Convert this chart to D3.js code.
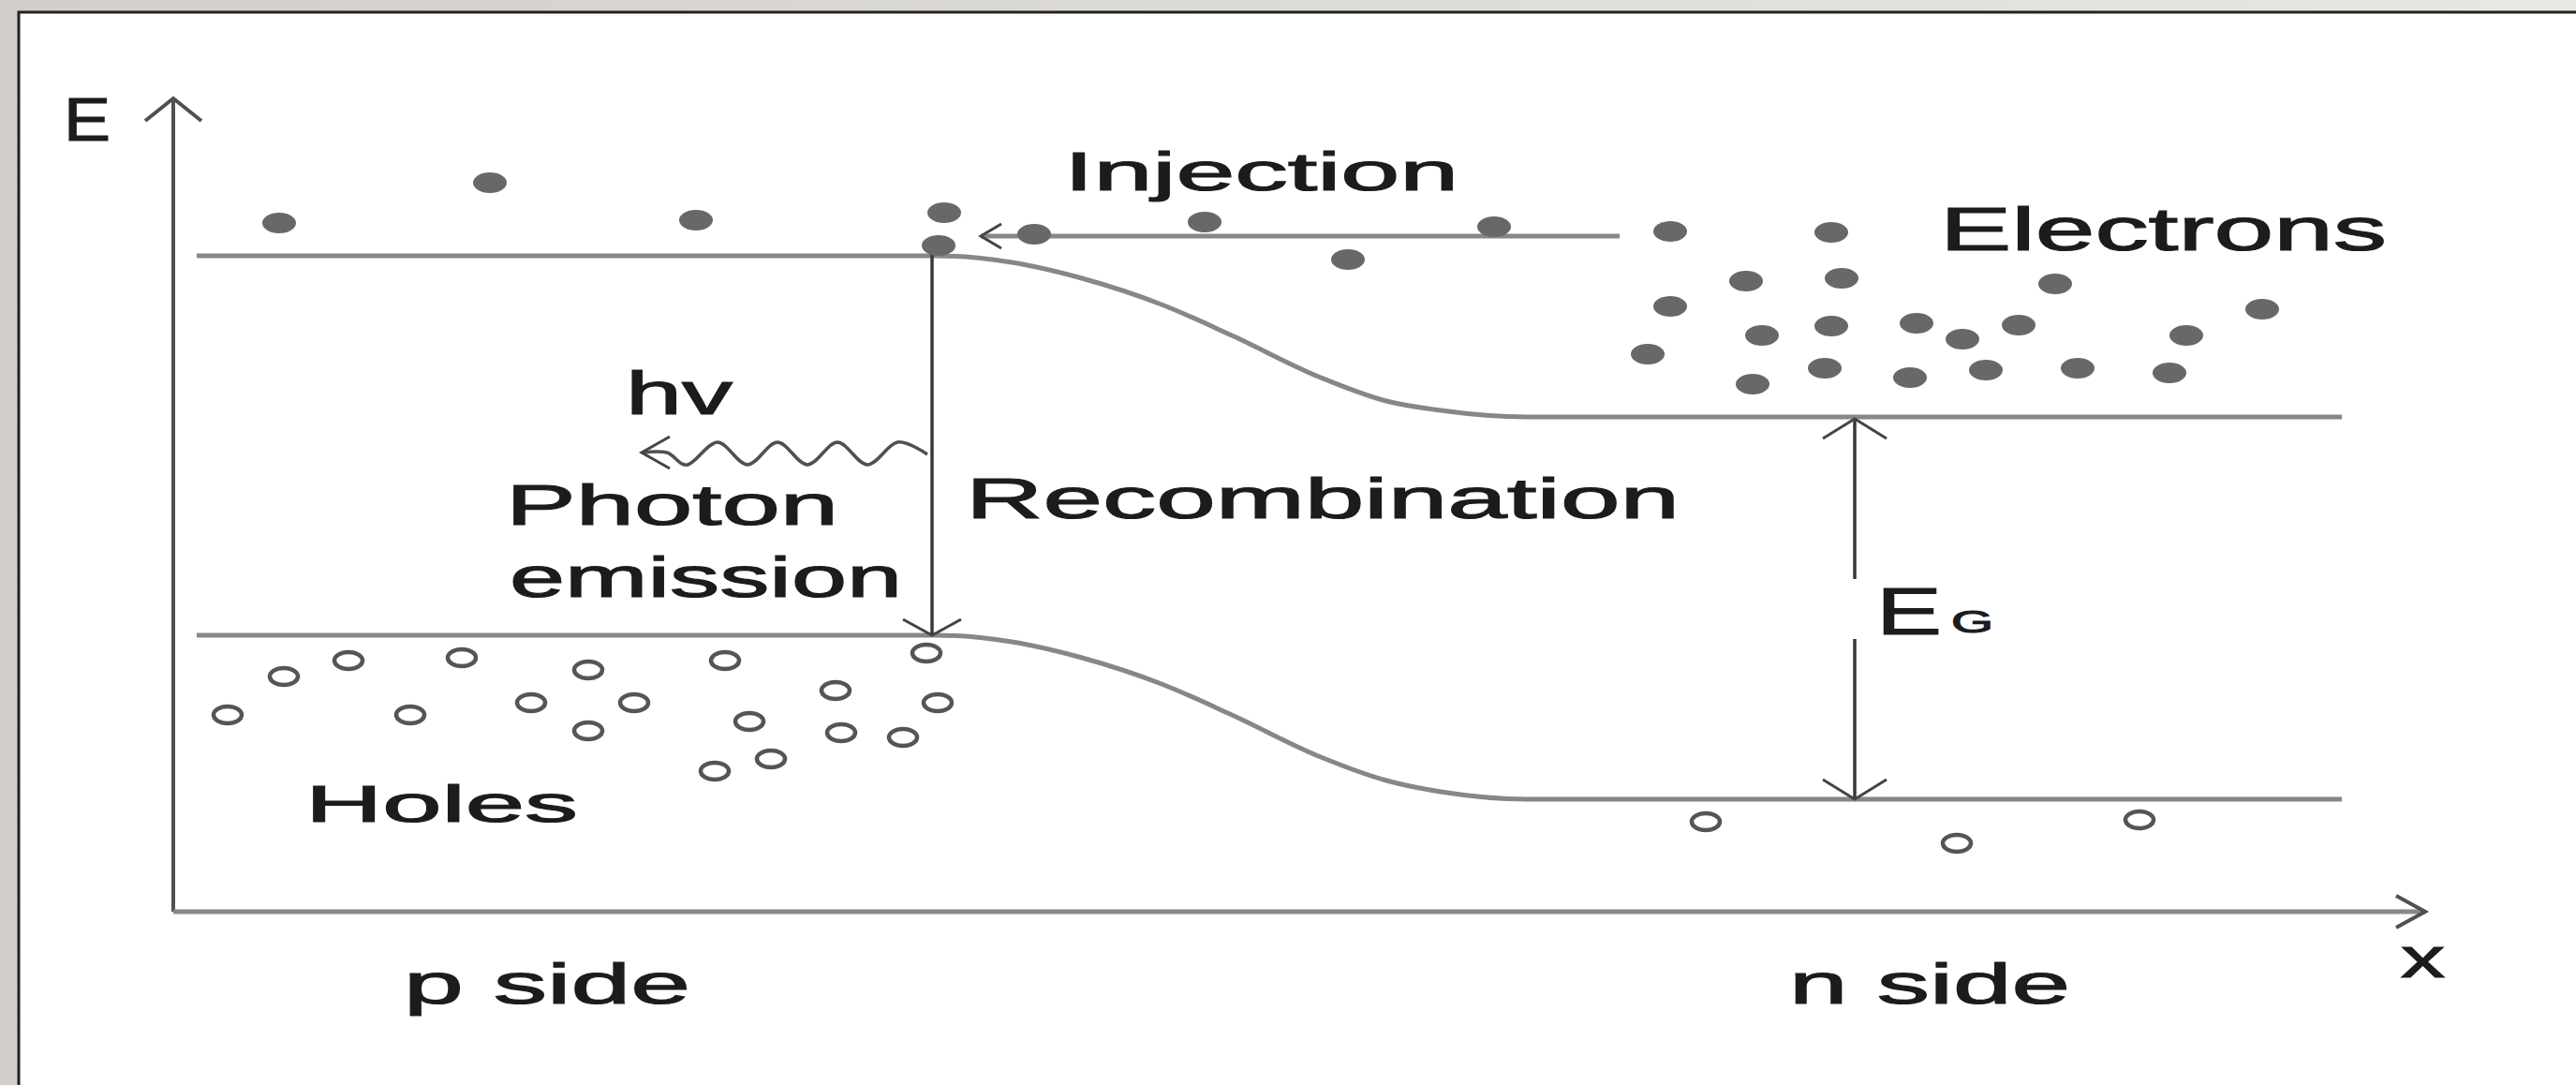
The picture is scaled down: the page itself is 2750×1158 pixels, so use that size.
<!DOCTYPE html>
<html>
<head>
<meta charset="utf-8">
<title>LED energy band diagram</title>
<script src="https://cdn.jsdelivr.net/npm/d3@7"></script>
<style>
  body { margin: 0; background: #d6d3ce; }
  text { font-family: 'Liberation Sans', Arial, sans-serif; fill: #1c1c1c; stroke: #1c1c1c; stroke-width: 1.2px; }
  .band { fill: none; stroke: #878787; stroke-width: 5px; }
  .axis { fill: none; stroke: #505050; stroke-width: 4px; }
  .xaxis { fill: none; stroke: #878787; stroke-width: 5px; }
  .dark { fill: none; stroke: #383838; stroke-width: 3.5px; }
  .grey { fill: none; stroke: #878787; stroke-width: 5px; }
  .head { fill: none; stroke: #444; stroke-width: 3px; }
  .electron { fill: #686868; }
  .hole { fill: #fff; stroke: #555; stroke-width: 4.5px; }
</style>
</head>
<body>
<svg id="chart"></svg>
<script>
    // diagram units: position along the x axis, energy along the E axis (origin = axes corner)
    var conductionBand = [[25, 700], [815, 700], [895, 693], [970, 676], [1055, 648], [1130, 615],
        [1225, 570], [1295, 545], [1353, 535], [1445, 528], [2315, 528]];
    var valenceBand = [[25, 295], [815, 295], [895, 288], [970, 271], [1055, 243], [1130, 210],
        [1225, 165], [1295, 140], [1353, 128], [1445, 120], [2315, 120]];

    var electrons = [
        [113, 735], [338, 778], [558, 738], [823, 746], [817, 711],
        [919, 723], [1101, 736], [1254, 696], [1410, 731],
        [1598, 726], [1770, 725], [1679, 673], [1781, 676], [2009, 670],
        [1598, 646], [1696, 615], [1770, 625], [1861, 628], [1910, 611], [1970, 626],
        [2149, 615], [2230, 643], [1574, 595], [1686, 563], [1763, 580], [1854, 570],
        [1935, 578], [2033, 580], [2131, 575]];
    var holes = [
        [58, 210], [118, 251], [187, 268], [253, 210], [308, 271], [382, 223],
        [443, 258], [492, 223], [443, 193], [589, 268], [615, 203], [707, 236],
        [804, 276], [816, 223], [713, 191], [779, 186], [638, 163], [578, 150],
        [1636, 96], [1904, 73], [2099, 98]];

    var injection = [[1544, 721], [862, 721]];
    var recombination = [[810, 711], [810, 295]];
    var photonWave = [[805, 488], [773, 501], [741, 477], [709, 501], [677, 477], [645, 501],
        [613, 477], [581, 501], [549, 477], [527, 490], [500, 490]];
    var gapArrowX = 1795;
    var gapArrowE = [526, 355, 291, 120];   // top, label gap start, label gap end, bottom

    var xAxisEnd = 2404;
    var eAxisEnd = 868;

    var labels = ['E', 'Injection', 'Electrons', 'hv', 'Photon', 'emission',
        'Recombination', 'Holes', 'p side', 'n side', 'x'];

    // page layout
    var vWidth = 2750, vHeight = 1158;
    var svg = d3.select('#chart').attr('width', vWidth).attr('height', vHeight);

    var defs = svg.append('defs');
    var grad = defs.append('linearGradient').attr('id', 'frame');
    grad.append('stop').attr('offset', '0%').attr('stop-color', '#d2cfca');
    grad.append('stop').attr('offset', '100%').attr('stop-color', '#e9e7e3');

    svg.append('rect').attr('width', vWidth).attr('height', vHeight).attr('fill', 'url(#frame)');
    svg.append('rect').attr('x', 20).attr('y', 13).attr('width', vWidth - 20).attr('height', vHeight - 13)
        .attr('fill', '#fff');
    svg.append('path').attr('d', 'M20,' + vHeight + 'V13H' + vWidth)
        .attr('fill', 'none').attr('stroke', '#222').attr('stroke-width', 3);

    var x = d3.scaleLinear().domain([0, xAxisEnd]).range([185, 2589]);
    var y = d3.scaleLinear().domain([0, eAxisEnd]).range([973, 105]);

    var line = d3.line().x(function (d) { return x(d[0]); }).y(function (d) { return y(d[1]); });
    var bandLine = d3.line().curve(d3.curveMonotoneX)
        .x(function (d) { return x(d[0]); }).y(function (d) { return y(d[1]); });

    // open "V" arrow head at tip, pointing along (dx, dy)
    function vHead(px, py, dx, dy, len, half, cls) {
        var bx = px - dx * len, by = py - dy * len;
        var ox = -dy * half, oy = dx * half;
        svg.append('path').attr('class', cls || 'head')
            .attr('d', 'M' + (bx + ox) + ',' + (by + oy) + 'L' + px + ',' + py + 'L' + (bx - ox) + ',' + (by - oy));
    }

    // bands
    svg.append('path').attr('class', 'band').attr('d', bandLine(conductionBand));
    svg.append('path').attr('class', 'band').attr('d', bandLine(valenceBand));

    // axes
    svg.append('path').attr('class', 'axis').attr('d', line([[0, 0], [0, eAxisEnd]]));
    vHead(x(0), y(eAxisEnd), 0, -1, 24, 30, 'axis');
    svg.append('path').attr('class', 'xaxis').attr('d', line([[0, 0], [xAxisEnd, 0]]));
    vHead(x(xAxisEnd), y(0), 1, 0, 31, 17, 'axis');

    // injection arrow
    svg.append('path').attr('class', 'grey').attr('d', line(injection));
    vHead(x(injection[1][0]), y(injection[1][1]), -1, 0, 22, 13);

    // recombination arrow
    svg.append('path').attr('class', 'dark').attr('d', line(recombination));
    vHead(x(recombination[1][0]), y(recombination[1][1]), 0, 1, 17, 31);

    // photon
    svg.append('path').attr('fill', 'none').attr('stroke', '#505050').attr('stroke-width', 3.5)
        .attr('d', d3.line().curve(d3.curveCardinal)
            .x(function (d) { return x(d[0]); }).y(function (d) { return y(d[1]); })(photonWave));
    var tip = photonWave[photonWave.length - 1];
    vHead(x(tip[0]), y(tip[1]), -1, 0, 30, 17);

    // band gap arrow
    svg.append('path').attr('class', 'dark')
        .attr('d', line([[gapArrowX, gapArrowE[0]], [gapArrowX, gapArrowE[1]]]) +
            line([[gapArrowX, gapArrowE[2]], [gapArrowX, gapArrowE[3]]]));
    vHead(x(gapArrowX), y(gapArrowE[0]), 0, -1, 21, 34);
    vHead(x(gapArrowX), y(gapArrowE[3]), 0, 1, 21, 34);

    // carriers
    svg.selectAll('.electron').data(electrons).enter().append('ellipse')
        .attr('class', 'electron')
        .attr('cx', function (d) { return x(d[0]); })
        .attr('cy', function (d) { return y(d[1]); })
        .attr('rx', 18).attr('ry', 11);
    svg.selectAll('.hole').data(holes).enter().append('ellipse')
        .attr('class', 'hole')
        .attr('cx', function (d) { return x(d[0]); })
        .attr('cy', function (d) { return y(d[1]); })
        .attr('rx', 15).attr('ry', 9);

    // text (left, baseline, size, width) - the picture is stretched sideways
    var labelPos = [[68, 150, 64, 50], [1136, 203, 58, 421], [2071, 267, 65, 477],
        [668, 442, 64, 114], [540, 560, 62, 355], [544, 637, 62, 419],
        [1031, 553, 62, 762], [326, 877, 56, 291], [431, 1071, 62, 306],
        [1910, 1071, 62, 300], [2563, 1043, 62, 47]];
    svg.selectAll('.label').data(labels).enter().append('text')
        .attr('class', 'label')
        .attr('x', function (d, i) { return labelPos[i][0]; })
        .attr('y', function (d, i) { return labelPos[i][1]; })
        .attr('font-size', function (d, i) { return labelPos[i][2]; })
        .attr('textLength', function (d, i) { return labelPos[i][3]; })
        .attr('lengthAdjust', 'spacingAndGlyphs')
        .text(function (d) { return d; });

    var eg = svg.append('text').attr('x', 2003).attr('y', 677);
    eg.append('tspan').attr('font-size', 70).attr('textLength', 70)
        .attr('lengthAdjust', 'spacingAndGlyphs').text('E');
    eg.append('tspan').attr('x', 2083).attr('y', 675).attr('font-size', 34)
        .attr('textLength', 45).attr('lengthAdjust', 'spacingAndGlyphs').text('G');
</script>
</body>
</html>
